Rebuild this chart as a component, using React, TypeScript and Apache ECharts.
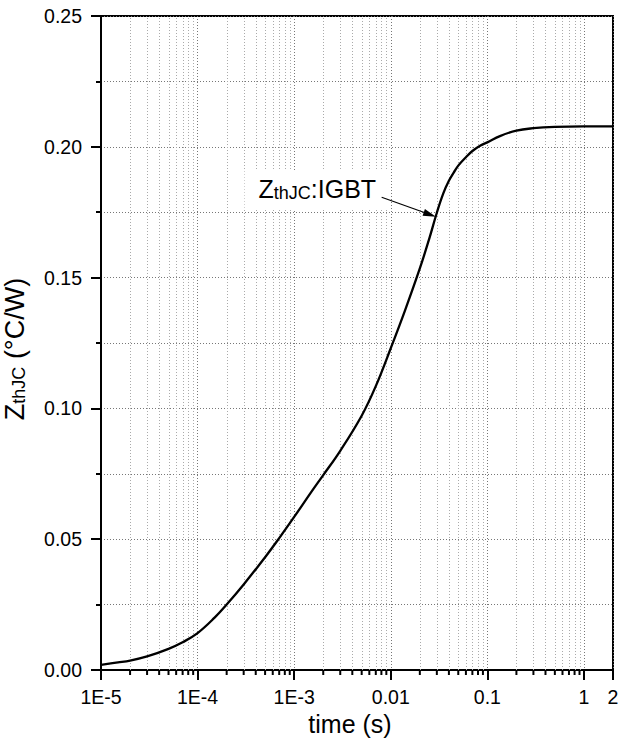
import React, { useEffect, useRef } from "react";
import * as echarts from "echarts";

// Transient thermal impedance junction-to-case, IGBT
const timeS = [
  1e-5, 1.5e-5, 2e-5, 3e-5, 5e-5, 7e-5, 1e-4, 1.5e-4, 2e-4, 3e-4, 5e-4, 7e-4,
  1e-3, 1.5e-3, 2e-3, 3e-3, 5e-3, 7e-3, 1e-2, 1.4e-2, 2e-2, 2.5e-2, 3e-2,
  3.5e-2, 4e-2, 4.5e-2, 5e-2, 6e-2, 7e-2, 8.5e-2, 0.1, 0.135, 0.2, 0.3, 0.5,
  1, 2,
];
const zthJC = [
  0.002, 0.0029, 0.0036, 0.0052, 0.0081, 0.0106, 0.0141, 0.02, 0.025, 0.0327,
  0.0431, 0.0504, 0.0585, 0.068, 0.0745, 0.0838, 0.0972, 0.1085, 0.123,
  0.1373, 0.1535, 0.1648, 0.1748, 0.1822, 0.187, 0.1902, 0.1928, 0.196,
  0.1984, 0.2005, 0.2017, 0.2041, 0.2062, 0.2071, 0.2076, 0.2078, 0.2078,
];

// Axis ranges and tick labels
const X_MIN = 1e-5;
const X_MAX = 2;
const Y_MIN = 0;
const Y_MAX = 0.25;
const Y_STEP = 0.05;
const xMajorValues = [1e-5, 1e-4, 1e-3, 0.01, 0.1, 1, 2];
const xMajorLabels = ["1E-5", "1E-4", "1E-3", "0.01", "0.1", "1", "2"];
const xMinorDecades = [1e-5, 1e-4, 1e-3, 0.01, 0.1];
const xMinorSteps = [2, 3, 4, 5, 6, 7, 8, 9];

// Annotation: label anchor, arrow tail and arrow head (data coordinates)
const annotationText = ["Z", "thJC", ":IGBT"];
const labelAnchor = [0.001738, 0.1837];
const arrowTail = [0.00805, 0.1807];
const arrowHead = [0.0254, 0.1741];

const FONT = '"Liberation Sans", Arial, Helvetica, sans-serif';

const xMinorValues: number[] = [];
xMinorDecades.forEach((d) => xMinorSteps.forEach((m) => xMinorValues.push(m * d)));

function xLabel(v: number): string {
  const i = xMajorValues.findIndex(
    (t) => Math.abs(Math.log10(t) - Math.log10(v)) < 1e-6
  );
  return i >= 0 ? xMajorLabels[i] : "";
}

export default function App() {
  const ref = useRef<HTMLDivElement>(null);

  useEffect(() => {
    if (!ref.current) return;
    const chart = echarts.init(ref.current, undefined, { renderer: "svg" });

    const labelRich = {
      z: { fontSize: 25, lineHeight: 25, fontFamily: FONT, color: "#000", verticalAlign: "bottom" },
      s: { fontSize: 18, lineHeight: 18, fontFamily: FONT, color: "#000", verticalAlign: "bottom" },
    };
    const yTitleRich = {
      z: { fontSize: 27, lineHeight: 27, fontFamily: FONT, color: "#000", verticalAlign: "bottom" },
      s: { fontSize: 18, lineHeight: 18, fontFamily: FONT, color: "#000", verticalAlign: "bottom" },
    };

    chart.setOption({
      animation: false,
      backgroundColor: "#fff",
      grid: {
        left: 101,
        right: 8,
        top: 16,
        bottom: 70,
        show: true,
        borderColor: "#000",
        borderWidth: 2,
        backgroundColor: "transparent",
        containLabel: false,
        outerBoundsMode: "none",
      },
      xAxis: {
        type: "log",
        logBase: 10,
        min: X_MIN,
        max: X_MAX,
        name: "time (s)",
        nameLocation: "middle",
        nameGap: 41,
        nameMoveOverlap: false,
        nameTextStyle: {
          fontSize: 25,
          fontFamily: FONT,
          color: "#000",
          padding: [0, 14, 0, 0],
        },
        axisLine: { show: true, onZero: false, lineStyle: { color: "#000", width: 2 } },
        axisTick: { show: true, inside: false, length: 10, lineStyle: { color: "#000", width: 2 } },
        minorTick: { show: false },
        axisLabel: {
          show: true,
          margin: 17,
          fontSize: 19.5,
          fontFamily: FONT,
          color: "#000",
          formatter: (v: number) => xLabel(v),
          hideOverlap: false,
        },
        splitLine: { show: true, lineStyle: { color: "#777", width: 1, type: [1, 2] } },
        minorSplitLine: { show: false },
      },
      yAxis: {
        type: "value",
        min: Y_MIN,
        max: Y_MAX,
        interval: Y_STEP,
        name: `{z|${annotationText[0]}}{s|${annotationText[1]}}{z| (°C/W)}`,
        nameLocation: "middle",
        nameRotate: 90,
        nameGap: 73,
        nameMoveOverlap: false,
        nameTextStyle: {
          fontFamily: FONT,
          color: "#000",
          padding: [0, 12, 0, 0],
          rich: yTitleRich,
        },
        axisLine: { show: true, lineStyle: { color: "#000", width: 2 } },
        axisTick: { show: true, inside: false, length: 10, lineStyle: { color: "#000", width: 2 } },
        minorTick: { show: true, splitNumber: 2, length: 5, lineStyle: { color: "#000", width: 2 } },
        axisLabel: {
          show: true,
          margin: 19,
          fontSize: 19.5,
          fontFamily: FONT,
          color: "#000",
          formatter: (v: number) => v.toFixed(2),
        },
        splitLine: { show: true, lineStyle: { color: "#777", width: 1, type: [1, 2] } },
        minorSplitLine: { show: true, lineStyle: { color: "#777", width: 1, type: [1, 2] } },
      },
      series: [
        {
          // minor decade grid lines (2..9) with their outside ticks
          type: "custom",
          silent: true,
          clip: false,
          z: 1,
          encode: { x: 0, y: 1 },
          data: xMinorValues.map((v) => [v, Y_MIN]),
          renderItem: (_params: any, api: any) => {
            const p0 = api.coord([api.value(0), Y_MIN]);
            const p1 = api.coord([api.value(0), Y_MAX]);
            const x = Math.round(p0[0]) + 0.5;
            return {
              type: "group",
              children: [
                {
                  type: "line",
                  shape: { x1: x, y1: p0[1], x2: x, y2: p1[1] },
                  style: { stroke: "#aaa", lineWidth: 1, lineDash: [1, 2] },
                },
                {
                  type: "line",
                  shape: { x1: p0[0], y1: p0[1], x2: p0[0], y2: p0[1] + 5 },
                  style: { stroke: "#000", lineWidth: 2 },
                },
              ],
            };
          },
        },
        {
          name: "ZthJC:IGBT",
          type: "line",
          data: timeS.map((t, i) => [t, zthJC[i]]),
          showSymbol: false,
          symbol: "none",
          smooth: 0.4,
          z: 3,
          lineStyle: { color: "#000", width: 2.3 },
          silent: true,
          markPoint: {
            silent: true,
            z: 4,
            symbol: "circle",
            symbolSize: 0,
            data: [
              {
                coord: labelAnchor,
                label: {
                  show: true,
                  position: "inside",
                  backgroundColor: "#fff",
                  padding: [7, 14],
                  formatter: `{z|${annotationText[0]}}{s|${annotationText[1]}}{z|${annotationText[2]}}`,
                  rich: labelRich,
                },
              },
            ],
          },
          markLine: {
            silent: true,
            z: 6,
            animation: false,
            label: { show: false },
            lineStyle: { color: "#000", width: 1.2, type: "solid" },
            data: [
              [
                { coord: arrowTail, symbol: "none" },
                { coord: arrowHead, symbol: "triangle", symbolSize: [7, 13] },
              ],
            ],
          },
        },
      ],
    });

    return () => chart.dispose();
  }, []);

  return (
    <div
      ref={ref}
      style={{ position: "fixed", left: 0, top: 0, width: 621, height: 740, background: "#fff" }}
    />
  );
}
